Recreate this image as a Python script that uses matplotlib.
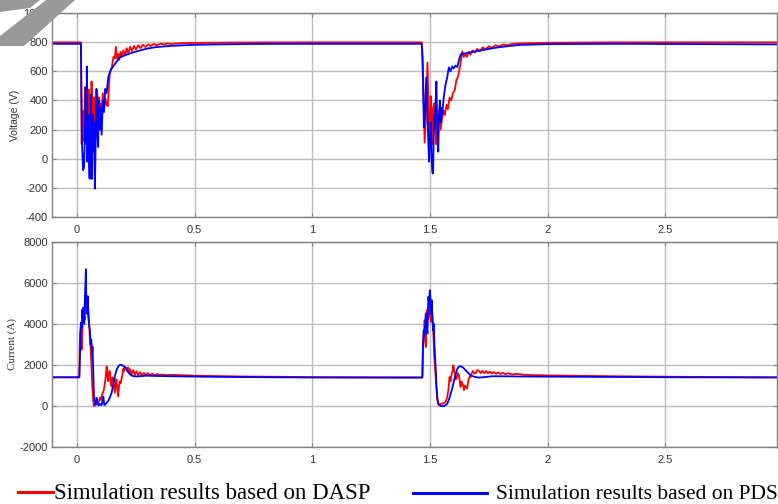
import matplotlib
matplotlib.use("Agg")
import matplotlib.pyplot as plt
from matplotlib.lines import Line2D
from matplotlib.patches import Polygon

# ---------------- data ----------------
v_dasp_t = [-0.106, 0.017, 0.020, 0.026, 0.030, 0.034, 0.038, 0.041, 0.044, 0.048, 0.051, 0.055, 0.058,
            0.062, 0.066, 0.069, 0.073, 0.076, 0.080, 0.083, 0.086, 0.090, 0.094, 0.097, 0.101, 0.105,
            0.110, 0.115, 0.120, 0.126, 0.131, 0.135, 0.140, 0.147, 0.155, 0.161, 0.165, 0.170, 0.175,
            0.180, 0.185, 0.190, 0.197, 0.204, 0.211, 0.218, 0.226, 0.234, 0.242, 0.251, 0.260, 0.270,
            0.280, 0.291, 0.302, 0.314, 0.326, 0.340, 0.355, 0.370, 0.385, 0.400, 0.45, 0.55, 0.70, 1.0,
            1.3, 1.465,
            1.469, 1.477, 1.483, 1.489, 1.493, 1.496, 1.500, 1.503, 1.507, 1.510, 1.514, 1.517, 1.520,
            1.524, 1.527, 1.531, 1.535, 1.540, 1.545, 1.552, 1.558, 1.563, 1.570, 1.576, 1.583, 1.590,
            1.597, 1.605, 1.612, 1.620, 1.628, 1.637, 1.643, 1.650, 1.657, 1.665, 1.672, 1.680, 1.690,
            1.700, 1.712, 1.724, 1.736, 1.750, 1.764, 1.778, 1.793, 1.81, 1.83, 1.85, 1.88, 2.0, 2.3, 2.974]
v_dasp = [800, 800, 100, 330, 120, 490, 200, 150, 360, 60, 476, 300, 14,
          531, 250, 80, 420, 250, 380, 200, 450, 250, 420, 300, 380, 330,
          450, 350, 420, 370, 360, 470, 600, 620, 700, 690, 770, 690, 720,
          680, 735, 700, 745, 710, 760, 725, 770, 740, 775, 750, 780, 760,
          783, 768, 786, 775, 789, 780, 791, 785, 793, 789, 795, 797, 799, 800,
          800, 800,
          700, 110, 300, 662, 400, 200, 150, 430, 300, 100, 350, 380, 200,
          150, 97, 280, 250, 340, 200, 283, 330, 300, 372, 340, 420, 400,
          450, 470, 540, 570, 640, 738, 700, 720, 700, 735, 715, 745, 730,
          755, 740, 765, 752, 773, 762, 780, 772, 785, 780, 790, 792, 797, 800, 800]

v_pds_t = [-0.106, 0.017, 0.021, 0.026, 0.030, 0.034, 0.037, 0.040, 0.042, 0.044, 0.048, 0.052, 0.055,
           0.059, 0.062, 0.064, 0.067, 0.070, 0.073, 0.076, 0.078, 0.081, 0.083, 0.086, 0.090, 0.093,
           0.097, 0.101, 0.105, 0.110, 0.115, 0.120, 0.126, 0.133, 0.140, 0.147, 0.154, 0.165, 0.182,
           0.210, 0.237, 0.27, 0.30, 0.34, 0.40, 0.5, 0.6, 0.75, 1.0, 1.465,
           1.469, 1.474, 1.478, 1.484, 1.489, 1.493, 1.496, 1.500, 1.503, 1.507, 1.510, 1.513, 1.517,
           1.520, 1.524, 1.527, 1.531, 1.535, 1.538, 1.542, 1.545, 1.549, 1.552, 1.558, 1.566, 1.573,
           1.580, 1.587, 1.594, 1.601, 1.608, 1.616, 1.623, 1.630, 1.65, 1.694, 1.75, 1.8, 1.877, 2.0,
           2.3, 2.974]
v_pds = [790, 790, 117, -80, -62, 200, 490, 100, 634, -21, 300, -131, -140,
         440, -100, -140, 300, 50, 250, -207, -50, 300, 480, 200, 80, 400,
         200, 350, 165, 400, 320, 480, 450, 560, 593, 620, 634, 660, 697,
         715, 730, 745, 758, 768, 776, 783, 786, 789, 790, 790,
         600, 214, 300, 559, 300, 100, -21, 150, 250, 0, -97, -103, 300,
         200, 400, 531, 200, 48, 300, 400, 250, 350, 300, 420, 510, 560,
         628, 600, 635, 620, 640, 630, 680, 717, 725, 738, 755, 768, 782, 788,
         790, 786]

i_dasp_t = [-0.106, 0.010, 0.013, 0.017, 0.020, 0.024, 0.027, 0.030, 0.033, 0.035, 0.038, 0.041, 0.044,
            0.048, 0.052, 0.055, 0.058, 0.061, 0.065, 0.069, 0.072, 0.077, 0.083, 0.088, 0.093, 0.097,
            0.102, 0.105, 0.112, 0.116, 0.119, 0.123, 0.126, 0.130, 0.133, 0.137, 0.140, 0.144, 0.147,
            0.151, 0.154, 0.158, 0.161, 0.165, 0.168, 0.172, 0.175, 0.179, 0.182, 0.186, 0.189, 0.193,
            0.196, 0.200, 0.203, 0.207, 0.210, 0.214, 0.217, 0.221, 0.225, 0.232, 0.239, 0.246, 0.253,
            0.260, 0.268, 0.276, 0.284, 0.292, 0.300, 0.31, 0.32, 0.33, 0.34, 0.35, 0.36, 0.38, 0.40,
            0.5, 0.7, 1.0, 1.3, 1.465,
            1.468, 1.470, 1.474, 1.477, 1.480, 1.482, 1.486, 1.489, 1.492, 1.496, 1.499, 1.503, 1.507,
            1.510, 1.514, 1.518, 1.524, 1.531, 1.538, 1.545, 1.552, 1.559, 1.566, 1.572, 1.578, 1.583,
            1.587, 1.592, 1.596, 1.599, 1.603, 1.606, 1.610, 1.613, 1.618, 1.623, 1.627, 1.630, 1.634,
            1.637, 1.641, 1.644, 1.648, 1.651, 1.655, 1.658, 1.662, 1.665, 1.669, 1.672, 1.677, 1.682,
            1.688, 1.694, 1.700, 1.708, 1.715, 1.722, 1.730, 1.738, 1.746, 1.754, 1.762, 1.770, 1.78,
            1.79, 1.80, 1.81, 1.82, 1.83, 1.85, 1.87, 1.9, 2.0, 2.3, 2.6, 2.974]
i_dasp = [1400, 1400, 3500, 4000, 2750, 4000, 4300, 4500, 4200, 5000, 4700, 4600, 4900,
          4300, 4000, 3200, 2900, 2110, 1000, 300, 0, 100, 80, 200, 200, 400,
          300, 500, 700, 900, 1130, 1500, 1930, 1400, 1200, 1700, 1700, 1100, 950,
          1400, 1300, 900, 640, 1100, 1300, 800, 460, 1000, 1200, 1100, 1300, 1500,
          1800, 1700, 1930, 1800, 1850, 1700, 1880, 1650, 1800, 1550, 1750, 1520, 1700,
          1500, 1650, 1500, 1620, 1500, 1600, 1500, 1580, 1500, 1560, 1500, 1540, 1500, 1520,
          1480, 1440, 1410, 1400, 1400,
          1400, 2880, 3500, 4180, 3200, 2880, 4670, 4200, 4340, 5160, 4500, 4100, 4500,
          4510, 3530, 2390, 1415, 280, 30, 100, 110, 150, 200, 400, 770, 1415,
          1200, 1580, 1700, 1985, 1700, 1580, 1300, 1340, 1600, 1500, 1100, 930, 1200,
          1090, 1000, 770, 1000, 930, 900, 850, 1200, 1340, 1450, 1415, 1600, 1710,
          1580, 1610, 1750, 1710, 1600, 1720, 1600, 1700, 1600, 1680, 1580, 1660, 1570,
          1640, 1560, 1620, 1550, 1600, 1540, 1570, 1520, 1490, 1450, 1420, 1400]

i_pds_t = [-0.106, 0.010, 0.017, 0.020, 0.023, 0.025, 0.027, 0.031, 0.033, 0.038, 0.040, 0.042, 0.044,
           0.046, 0.048, 0.052, 0.055, 0.058, 0.061, 0.064, 0.066, 0.069, 0.073, 0.076, 0.079, 0.083,
           0.086, 0.089, 0.092, 0.097, 0.101, 0.105, 0.109, 0.112, 0.116, 0.119, 0.126, 0.133, 0.140,
           0.147, 0.154, 0.161, 0.168, 0.175, 0.182, 0.190, 0.197, 0.203, 0.210, 0.218, 0.225, 0.235,
           0.253, 0.275, 0.295, 0.32, 0.4, 0.6, 1.0, 1.465,
           1.467, 1.470, 1.473, 1.475, 1.478, 1.482, 1.485, 1.489, 1.491, 1.493, 1.496, 1.499, 1.501,
           1.503, 1.505, 1.507, 1.510, 1.513, 1.515, 1.517, 1.519, 1.521, 1.524, 1.527, 1.531, 1.535,
           1.545, 1.559, 1.566, 1.573, 1.580, 1.588, 1.595, 1.602, 1.609, 1.616, 1.623, 1.630, 1.640,
           1.651, 1.662, 1.672, 1.69, 1.708, 1.74, 1.764, 1.82, 1.877, 2.2, 2.6, 2.974]
i_pds = [1400, 1400, 4070, 3800, 4700, 4300, 4800, 4000, 5000, 6670, 4800, 5200, 4500,
         5360, 4700, 3900, 3700, 3000, 3240, 2500, 2900, 1770, 300, 200, 50, 400,
         300, 100, 30, 100, 60, 50, 300, 460, 50, 50, 150, 250, 420,
         640, 1000, 1440, 1750, 1920, 2010, 2000, 1950, 1900, 1800, 1650, 1550, 1470,
         1440, 1460, 1480, 1470, 1450, 1420, 1390, 1380,
         1400, 3000, 3690, 3370, 3800, 4510, 4000, 3530, 4600, 5320, 5000, 5640, 5400,
         4510, 4700, 5160, 4300, 3690, 4020, 3700, 2880, 2500, 1900, 1000, 400, 110,
         0, 0, 50, 110, 300, 600, 900, 1250, 1550, 1820, 1920, 1940, 1880,
         1740, 1620, 1500, 1420, 1385, 1420, 1450, 1450, 1440, 1420, 1400, 1390]

x_ticks = [0, 0.5, 1, 1.5, 2, 2.5]
x_tick_labels = ["0", "0.5", "1", "1.5", "2", "2.5"]
v_ticks = [-400, -200, 0, 200, 400, 600, 800, 1000]
i_ticks = [-2000, 0, 2000, 4000, 6000, 8000]
legend_labels = ["Simulation results based on DASP", "Simulation results based on PDS"]

# ---------------- figure ----------------
W, H = 778, 504
fig = plt.figure(figsize=(W / 100, H / 100), dpi=100)

RED = "#ff0000"
BLUE = "#0000ff"
GRID = "#bcbcbc"
SPINE = "#808080"
TXT = "#333333"

def px_rect(l, t, r, b):
    return [l / W, 1 - b / H, (r - l) / W, (b - t) / H]

ax1 = fig.add_axes(px_rect(52, 13.3, 777, 216.7))
ax2 = fig.add_axes(px_rect(52, 242, 777, 447))

for ax, yt in ((ax1, v_ticks), (ax2, i_ticks)):
    ax.set_xlim(-0.106, 2.974)
    ax.set_xticks(x_ticks)
    ax.set_xticklabels(x_tick_labels)
    ax.set_yticks(yt)
    ax.set_yticklabels([str(v) for v in yt])
    ax.set_ylim(yt[0], yt[-1])
    ax.grid(True, color=GRID, lw=1.0)
    ax.set_axisbelow(True)
    for s in ax.spines.values():
        s.set_color(SPINE)
        s.set_linewidth(1.0)
    ax.tick_params(direction="in", length=3, color=SPINE, top=True, right=True,
                   labelsize=8, labelcolor=TXT)
    ax.tick_params(axis="y", pad=3)
    ax.tick_params(axis="x", pad=6)
    for lab in ax.get_xticklabels() + ax.get_yticklabels():
        lab.set_family("Liberation Sans")

ax1.plot(v_dasp_t, v_dasp, color=RED, lw=1.3)
ax1.plot(v_pds_t, v_pds, color=BLUE, lw=1.3)
ax2.plot(i_dasp_t, i_dasp, color=RED, lw=1.3)
ax2.plot(i_pds_t, i_pds, color=BLUE, lw=1.3)

ax1.set_ylabel("Voltage (V)", family="Liberation Sans", fontsize=7.5, color=TXT, labelpad=2)
ax2.set_ylabel("Current (A)", family="Liberation Serif", fontsize=8, color=TXT, labelpad=2)

# legend drawn in figure pixels
def fy(y):
    return 1 - y / H

fig.add_artist(Line2D([18 / W, 53 / W], [fy(492), fy(492)], color=RED, lw=2.2))
fig.text(54 / W, fy(499), legend_labels[0], family="Liberation Serif", fontsize=16.5,
         color="black", va="baseline", ha="left")
fig.add_artist(Line2D([413 / W, 487 / W], [fy(493), fy(493)], color=BLUE, lw=2.2))
fig.text(496 / W, fy(499), legend_labels[1], family="Liberation Serif", fontsize=15.5,
         color="black", va="baseline", ha="left")

# grey watermark fragment in the corner
wm1 = Polygon([(46 / W, 1), (75 / W, 1), (24 / W, fy(46)), (0, fy(46)), (0, fy(36))],
              closed=True, transform=fig.transFigure, facecolor="#999999", edgecolor="none", zorder=10)
wm2 = Polygon([(0, 1), (40 / W, 1), (30 / W, fy(8)), (0, fy(12))],
              closed=True, transform=fig.transFigure, facecolor="#999999", edgecolor="none", zorder=10)
fig.add_artist(wm1)
fig.add_artist(wm2)

fig.savefig("out.png", dpi=100)
